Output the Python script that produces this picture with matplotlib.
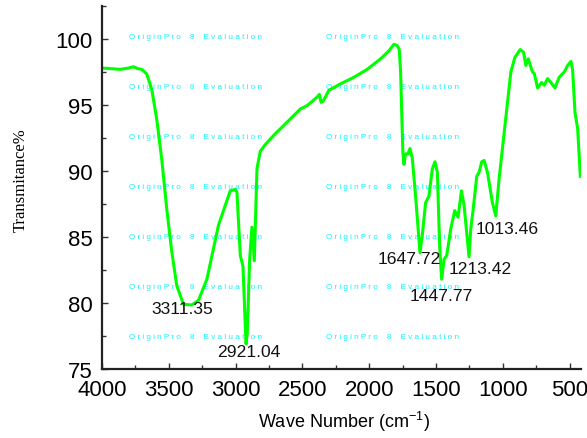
import numpy as np
import matplotlib
matplotlib.use("Agg")
import matplotlib.pyplot as plt
from matplotlib.ticker import MultipleLocator

plt.rcParams['font.family'] = ['Liberation Sans', 'DejaVu Sans']
plt.rcParams['mathtext.fontset'] = 'custom'
plt.rcParams['mathtext.rm'] = 'Liberation Sans'
plt.rcParams['mathtext.default'] = 'regular'

# FTIR spectrum
wn = [4000, 3930, 3865, 3800, 3765, 3730, 3703, 3665, 3628, 3590, 3553, 3515, 3478,
      3440, 3390, 3328, 3278, 3215, 3128, 3040, 3003, 2990, 2965, 2945, 2922,
      2912, 2895, 2878, 2860, 2840, 2815, 2778, 2715, 2615, 2515, 2465, 2390,
      2373, 2360, 2345, 2328, 2303, 2215, 2115, 2015, 1915, 1853, 1815, 1790,
      1775, 1765, 1757, 1748, 1740, 1728, 1710, 1695, 1678, 1653, 1620, 1603,
      1578, 1553, 1528, 1508, 1490, 1473, 1458, 1440, 1420, 1390, 1360, 1335,
      1310, 1290, 1273, 1253, 1240, 1223, 1195, 1178, 1158, 1140, 1115, 1078,
      1053, 1028, 990, 940, 910, 870, 845, 828, 810, 778, 765, 740, 710, 690,
      665, 640, 610, 578, 540, 515, 490, 478, 460, 440, 420]
tr = [97.8, 97.75, 97.7, 97.8, 97.9, 97.75, 97.7, 97.35, 96.2, 93.9, 90.9, 87.1, 83.9,
      81.3, 79.9, 79.85, 80.2, 81.8, 85.9, 88.5, 88.6, 88.4, 83.6, 82.8, 76.9,
      77.8, 83.3, 85.75, 83.2, 90.2, 91.5, 92.0, 92.7, 93.7, 94.7, 94.95, 95.6,
      95.8, 95.2, 95.3, 95.6, 96.1, 96.6, 97.1, 97.7, 98.5, 99.1, 99.6, 99.5,
      99.2, 97.5, 94.5, 91.4, 90.5, 91.3, 91.3, 91.7, 91.0, 88.1, 83.8, 85.1,
      87.6, 88.1, 90.15, 90.7, 89.9, 84.3, 81.8, 83.3, 83.6, 85.6, 87.0, 86.5,
      88.5, 87.4, 85.6, 83.5, 85.6, 87.0, 89.6, 89.9, 90.7, 90.8, 89.9, 87.6,
      86.6, 89.4, 92.9, 97.5, 98.6, 99.2, 99.0, 98.0, 98.5, 97.5, 97.4, 96.3,
      96.7, 96.5, 97.0, 96.7, 96.3, 97.1, 97.5, 98.0, 98.3, 97.7, 94.45, 93.2, 89.6]

peak_labels = ['3311.35', '2921.04', '1647.72', '1447.77', '1213.42', '1013.46']
label_x = [3402, 2903, 1703, 1457, 1166, 971]
label_y = [79.55, 76.34, 83.35, 80.55, 82.65, 85.66]

fig = plt.figure(figsize=(5.87, 4.39), dpi=100)
ax = fig.add_axes([102/587, 1-370/439, 479/587, 363/439])

ax.plot(wn, tr, color='#00ff00', lw=2.2, zorder=2)

for s, x, y in zip(peak_labels, label_x, label_y):
    ax.text(x, y, s, fontsize=12.6, ha='center', va='center', color='#111111', zorder=3)

# evaluation watermark
wm = 'O r i g i n P r o' + ' ' * 4 + '8' + ' ' * 4 + 'E v a l u a t i o n'
for col in [0.0564, 0.4676]:
    for i in range(7):
        ax.text(col, 0.917 - i*0.1377, wm,
                transform=ax.transAxes, fontsize=5.9, color='#10f4ff',
                ha='left', va='center', zorder=1)

ax.set_xlim(4000, 415)
ax.set_ylim(75, 102.5)
ax.xaxis.set_major_locator(MultipleLocator(500))
ax.xaxis.set_minor_locator(MultipleLocator(250))
ax.yaxis.set_major_locator(MultipleLocator(5))
ax.yaxis.set_minor_locator(MultipleLocator(2.5))
ax.tick_params(which='both', direction='in', width=1, color='#333333')
ax.tick_params(which='major', length=4, labelsize=16, pad=7)
ax.tick_params(which='minor', length=3)

for side in ['top', 'right']:
    ax.spines[side].set_visible(False)
for side in ['left', 'bottom']:
    ax.spines[side].set_linewidth(1.6)
    ax.spines[side].set_color('#222222')

ax.set_xlabel('Wave Number (cm$^{-1}$)', fontsize=13)
ax.xaxis.label.set_va('center')
ax.xaxis.set_label_coords(0.505, -0.143)
ax.set_ylabel('Transmitance%', fontsize=12, family='Liberation Serif')
ax.yaxis.label.set_va('center')
ax.yaxis.set_label_coords(-0.169, 0.523)

plt.savefig('out.png', dpi=100)
